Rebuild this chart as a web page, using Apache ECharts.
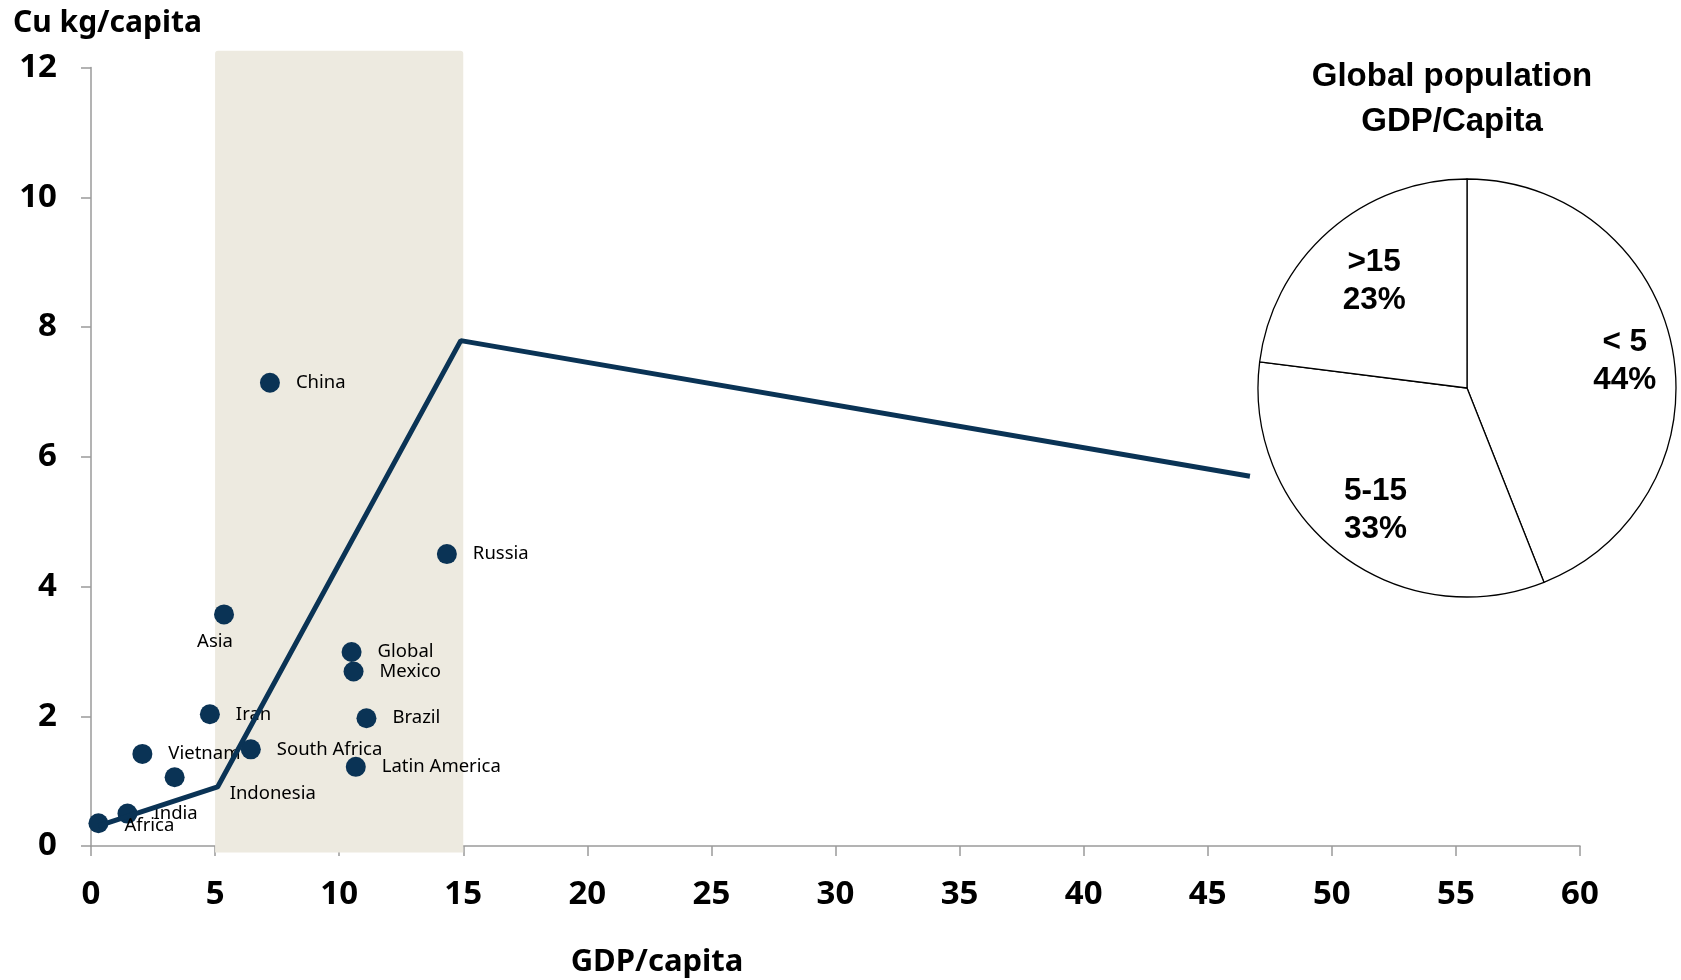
<!DOCTYPE html>
<html><head><meta charset="utf-8">
<script src="https://cdn.jsdelivr.net/npm/echarts@6/dist/echarts.min.js"></script>
<style>html,body{margin:0;padding:0;background:#fff}#c{width:1681px;height:980px}</style>
</head><body><div id="c"></div>
<script>
// ---- data ----
const countries = ['China','Russia','Asia','Global','Mexico','Iran','Brazil','Vietnam','South Africa','Latin America','Indonesia','India','Africa'];
const gdpPerCapita = [7.21,14.34,5.36,10.50,10.58,4.79,11.10,2.07,6.44,10.67,3.37,1.47,0.30];
const cuPerCapita  = [7.14,4.50,3.57,2.99,2.69,2.03,1.97,1.42,1.49,1.22,1.06,0.50,0.35];
const trendGdp = [0.3, 5.1, 14.9, 46.7];
const trendCu  = [0.31, 0.91, 7.79, 5.70];
const bandGdp = [5, 15];
const bandCu = [-0.1, 12.26];
const xAxisRange = [0, 60, 5];
const yAxisRange = [0, 12, 2];
const pieLabels = ['< 5', '5-15', '>15'];
const pieShares = [44, 33, 23];

// ---- label placement (style, not data) ----
const labelTweaks = {
  'Asia': {position: 'bottom', distance: 8, offset: [-9, 0]},
  'Indonesia': {offset: [29, 17]},
  'Africa': {offset: [0, 2]}
};
const pieLabelTweaks = {
  '< 5': {offset: [8, 2]},
  '5-15': {offset: [2, 2]},
  '>15': {offset: [8, 8]}
};

const NAVY = '#0A3355';
const scatterData = countries.map((n, i) => {
  const d = {name: n, value: [gdpPerCapita[i], cuPerCapita[i]]};
  if (labelTweaks[n]) d.label = labelTweaks[n];
  return d;
});

const chart = echarts.init(document.getElementById('c'), null, {renderer: 'canvas'});
const axisGray = '#9a9a9a';
const tickFont = {fontFamily: 'Noto Sans', fontWeight: 'bold', fontSize: 33, color: '#000'};

chart.setOption({
  animation: false,
  grid: {left: 91, right: 101, top: 67.5, bottom: 134},
  xAxis: {
    type: 'value', min: xAxisRange[0], max: xAxisRange[1], interval: xAxisRange[2],
    splitLine: {show: false},
    axisLine: {show: true, lineStyle: {color: axisGray, width: 1.5}},
    axisTick: {show: true, length: 10, lineStyle: {color: axisGray, width: 1.5}},
    axisLabel: Object.assign({margin: 32}, tickFont)
  },
  yAxis: {
    type: 'value', min: yAxisRange[0], max: yAxisRange[1], interval: yAxisRange[2],
    splitLine: {show: false},
    axisLine: {show: true, lineStyle: {color: axisGray, width: 1.5}},
    axisTick: {show: true, length: 10, lineStyle: {color: axisGray, width: 1.5}},
    axisLabel: Object.assign({margin: 34}, tickFont)
  },
  graphic: [
    {type: 'text', left: 13, top: 8, style: {text: 'Cu kg/capita', fill: '#000', font: 'bold 30px "Noto Sans"'}},
    {type: 'text', x: 657, y: 962, style: {text: 'GDP/capita', fill: '#000', font: 'bold 31px "Noto Sans"', align: 'center', verticalAlign: 'middle'}},
    {type: 'text', x: 1452, y: 99.5, style: {text: 'Global population\nGDP/Capita', fill: '#000', font: 'bold 33px "Liberation Sans"', lineHeight: 45, align: 'center', verticalAlign: 'middle'}}
  ],
  series: [
    {
      type: 'custom', z: 1, clip: false, silent: true,
      data: [[bandGdp[0], bandCu[0], bandGdp[1], bandCu[1]]],
      renderItem: function (params, api) {
        const p1 = api.coord([api.value(0), api.value(3)]);
        const p2 = api.coord([api.value(2), api.value(1)]);
        return {type: 'rect', shape: {x: p1[0], y: p1[1], width: p2[0] - p1[0], height: p2[1] - p1[1], r: [3, 3, 0, 0]},
                style: {fill: '#EDEAE0'}};
      }
    },
    {
      type: 'scatter', z: 2, clip: false,
      symbolSize: 20,
      itemStyle: {color: NAVY, opacity: 1},
      data: scatterData,
      label: {show: true, position: 'right', distance: 16, formatter: '{b}', color: '#000', fontFamily: 'Noto Sans', fontSize: 18.5}
    },
    {
      type: 'line', z: 3, clip: false, symbol: 'none',
      lineStyle: {color: NAVY, width: 5},
      data: trendGdp.map((x, i) => [x, trendCu[i]])
    },
    {
      type: 'pie', silent: true, center: [1467, 388], radius: 209,
      startAngle: 90, clockwise: true,
      itemStyle: {color: '#fff', borderColor: '#000', borderWidth: 1.3},
      label: {show: false}, labelLine: {show: false},
      data: pieLabels.map((n, i) => ({name: n, value: pieShares[i]}))
    },
    {
      type: 'pie', silent: true, center: [1467, 388], radius: [90, 209],
      startAngle: 90, clockwise: true, z: 3,
      itemStyle: {color: 'rgba(0,0,0,0)', borderWidth: 0},
      label: {show: true, position: 'inside', formatter: '{b}\n{c}%', color: '#000', fontFamily: 'Liberation Sans', fontWeight: 'bold', fontSize: 31.5, lineHeight: 38},
      labelLine: {show: false},
      data: pieLabels.map((n, i) => ({name: n, value: pieShares[i], label: pieLabelTweaks[n]}))
    }
  ]
});
</script></body></html>
